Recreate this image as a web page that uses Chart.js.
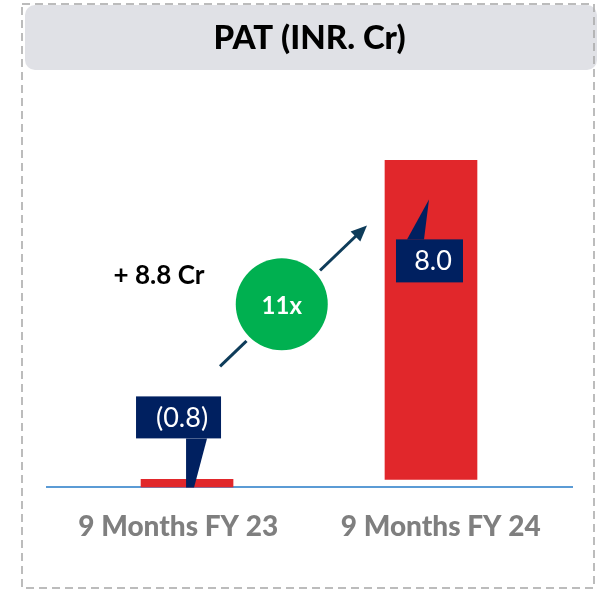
<!DOCTYPE html>
<html>
<head>
<meta charset="utf-8">
<script src="https://cdn.jsdelivr.net/npm/chart.js@4.4.1/dist/chart.umd.min.js"></script>
<style>
  html, body { margin: 0; padding: 0; background: #fff; }
  #wrap { position: relative; width: 607px; height: 589px; }
</style>
</head>
<body>
<div id="wrap"><canvas id="chart-pat"></canvas></div>
<script>
// data
const periods = ['9 Months FY 23', '9 Months FY 24'];
const barSlots = [0, 1];
const barFrom = [0, 0.2];
const barTo = [0.2, 8.2];
const valueLabels = ['(0.8)', '8.0'];
const changeLabel = '+ 8.8 Cr';
const growthLabel = '11x';

const NAVY = '#002060';
const RED = '#e1272b';
const GREEN = '#00b050';
const ARROW = '#0e3c5a';
const FONT = 'Lato, "Open Sans", sans-serif';

const frame = {
  id: 'frame',
  beforeDraw(chart) {
    const ctx = chart.ctx;
    ctx.save();
    ctx.fillStyle = '#fff';
    ctx.fillRect(0, 0, chart.width, chart.height);
    // grey header box
    ctx.fillStyle = '#e0e1e6';
    ctx.beginPath();
    ctx.roundRect(25, 5, 572, 65, 10);
    ctx.fill();
    // dashed outline
    ctx.strokeStyle = '#a6a6a6';
    ctx.lineWidth = 1.5;
    ctx.setLineDash([8, 5]);
    ctx.strokeRect(22, 4, 572, 584);
    ctx.restore();
  },
};

function drawTag(ctx, box, tail, text, textPos) {
  ctx.fillStyle = NAVY;
  ctx.fillRect(box[0], box[1], box[2], box[3]);
  ctx.beginPath();
  tail.forEach((p, i) => (i ? ctx.lineTo(p[0], p[1]) : ctx.moveTo(p[0], p[1])));
  ctx.closePath();
  ctx.fill();
  ctx.fillStyle = '#fff';
  ctx.font = `27px ${FONT}`;
  ctx.textAlign = 'center';
  ctx.textBaseline = 'middle';
  ctx.fillText(text, textPos[0], textPos[1]);
}

const annotations = {
  id: 'annotations',
  afterDatasetsDraw(chart) {
    const ctx = chart.ctx;
    const bars = chart.getDatasetMeta(0).data;
    const b0 = bars[0];
    const b1 = bars[1];
    ctx.save();

    // callout for the first bar, pointing down to the axis
    const t0 = b0.base - 91;
    drawTag(ctx, [b0.x - 51, t0, 85, 42],
      [[b0.x - 1, t0 + 42], [b0.x + 20, t0 + 42], [b0.x + 7, b0.base], [b0.x - 1, b0.base]],
      valueLabels[0], [b0.x - 5, t0 + 22]);

    // callout inside the second bar, pointing up
    const t1 = b1.y + 79;
    drawTag(ctx, [b1.x - 35, t1, 67, 43],
      [[b1.x - 24, t1], [b1.x - 2, b1.y + 39], [b1.x - 7, t1]],
      valueLabels[1], [b1.x + 2, t1 + 22]);

    // growth arrow
    const sx = b0.x + 33, sy = b0.base - 121;
    const ex = b1.x - 64, ey = b1.y + 65;
    const ang = Math.atan2(ey - sy, ex - sx);
    const head = 16;
    ctx.strokeStyle = ARROW;
    ctx.fillStyle = ARROW;
    ctx.lineWidth = 3;
    ctx.beginPath();
    ctx.moveTo(sx, sy);
    ctx.lineTo(ex - Math.cos(ang) * head * 0.8, ey - Math.sin(ang) * head * 0.8);
    ctx.stroke();
    ctx.beginPath();
    ctx.moveTo(ex, ey);
    ctx.lineTo(ex - head * Math.cos(ang) + 7 * Math.sin(ang), ey - head * Math.sin(ang) - 7 * Math.cos(ang));
    ctx.lineTo(ex - head * Math.cos(ang) - 7 * Math.sin(ang), ey - head * Math.sin(ang) + 7 * Math.cos(ang));
    ctx.closePath();
    ctx.fill();

    // green badge sitting on the arrow
    const cx = sx + (ex - sx) * 0.42;
    const cy = sy + (ey - sy) * 0.42 - 3;
    ctx.beginPath();
    ctx.arc(cx, cy, 46, 0, Math.PI * 2);
    ctx.lineWidth = 10;
    ctx.strokeStyle = '#fff';
    ctx.stroke();
    ctx.fillStyle = GREEN;
    ctx.fill();
    ctx.fillStyle = '#fff';
    ctx.font = `bold 24px ${FONT}`;
    ctx.textAlign = 'center';
    ctx.textBaseline = 'middle';
    ctx.fillText(growthLabel, cx, cy + 2);

    ctx.fillStyle = '#000';
    ctx.font = `bold 26px ${FONT}`;
    ctx.fillText(changeLabel, b0.x - 28, b0.base - 212);
    ctx.restore();
  },
};

new Chart(document.getElementById('chart-pat'), {
  type: 'bar',
  data: {
    labels: periods,
    datasets: [
      {
        label: 'PAT',
        data: barSlots.map((s, i) => ({ x: s, y: [barFrom[i], barTo[i]] })),
        backgroundColor: RED,
        borderWidth: 0,
        borderSkipped: false,
        barThickness: 92,
        xAxisID: 'xBar',
        yAxisID: 'y',
      },
    ],
  },
  options: {
    responsive: true,
    maintainAspectRatio: false,
    animation: false,
    layout: { padding: { left: 47, right: 35, top: 0, bottom: 22 } },
    scales: {
      x: {
        type: 'category',
        labels: periods,
        offset: true,
        grid: { display: false, drawTicks: false },
        border: { display: true, color: '#5b9bd5', width: 2 },
        ticks: { color: '#7f7f7f', padding: 23, font: { family: FONT, size: 28, weight: 900 } },
      },
      xBar: {
        type: 'linear',
        display: false,
        offset: false,
        min: -0.574,
        max: 1.578,
      },
      y: {
        display: false,
        min: 0,
        max: 10,
      },
    },
    plugins: {
      legend: { display: false },
      tooltip: { enabled: false },
      title: {
        display: true,
        text: 'PAT (INR. Cr)',
        color: '#000',
        padding: { top: 19, bottom: 30 },
        font: { family: FONT, size: 33, weight: 900, lineHeight: 1.2 },
      },
    },
  },
  plugins: [frame, annotations],
});
</script>
</body>
</html>
